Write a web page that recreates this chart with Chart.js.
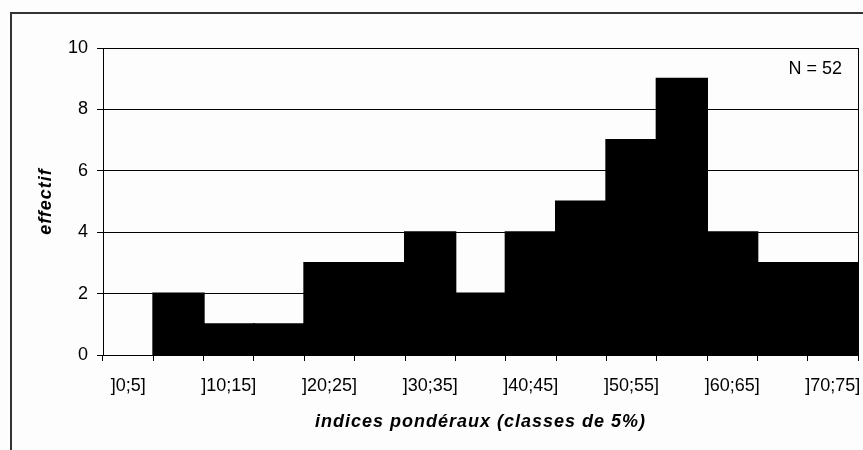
<!DOCTYPE html>
<html>
<head>
<meta charset="utf-8">
<script src="https://cdn.jsdelivr.net/npm/chart.js@4.4.1/dist/chart.umd.min.js"></script>
<style>
  html, body { margin: 0; padding: 0; background: #fdfdfd; }
  #wrap { width: 863px; height: 450px; }
</style>
</head>
<body>
<div id="wrap"><canvas id="histo" width="863" height="450"></canvas></div>
<script>
// classes of 5% and their counts
const classes = [']0;5]', ']5;10]', ']10;15]', ']15;20]', ']20;25]', ']25;30]', ']30;35]', ']35;40]',
                 ']40;45]', ']45;50]', ']50;55]', ']55;60]', ']60;65]', ']65;70]', ']70;75]'];
const effectifs = [0, 2, 1, 1, 3, 3, 4, 2, 4, 5, 7, 9, 4, 3, 3];
const yTicks = [0, 2, 4, 6, 8, 10];
const totalLabel = 'N = 52';
const xTitle = 'indices pondéraux (classes de 5%)';
const yTitle = 'effectif';

const FONT = 'Liberation Sans, Arial, sans-serif';

// axis titles are drawn slightly letter-spaced
const spacedTitles = {
    id: 'spacedTitles',
    beforeDraw(chart) {
        Object.values(chart.scales).forEach(scale => {
            if (scale._spaced) return;
            const orig = scale.drawTitle;
            scale.drawTitle = function () {
                const ctx = this.ctx;
                ctx.save();
                ctx.letterSpacing = '1px';
                orig.call(this);
                ctx.restore();
            };
            scale._spaced = true;
        });
    }
};

// outer frame + right edge of the plot + the N label
const framePlugin = {
    id: 'frame',
    afterDraw(chart) {
        const ctx = chart.ctx;
        const a = chart.chartArea;
        ctx.save();
        ctx.strokeStyle = '#333';
        ctx.lineWidth = 2;
        ctx.beginPath();
        ctx.moveTo(11, chart.height + 5);
        ctx.lineTo(11, 13);
        ctx.lineTo(chart.width + 5, 13);
        ctx.stroke();

        ctx.strokeStyle = '#000';
        ctx.lineWidth = 1;
        ctx.beginPath();
        ctx.moveTo(a.right + 0.5, a.top);
        ctx.lineTo(a.right + 0.5, a.bottom);
        ctx.stroke();

        ctx.fillStyle = '#000';
        ctx.font = '18px ' + FONT;
        ctx.textAlign = 'right';
        ctx.textBaseline = 'middle';
        ctx.fillText(totalLabel, a.right - 16, a.top + 21);
        ctx.restore();
    }
};

new Chart(document.getElementById('histo'), {
    type: 'bar',
    data: {
        labels: classes,
        datasets: [{
            data: effectifs,
            backgroundColor: '#000',
            borderColor: '#000',
            borderWidth: 0,
            // grow bars a little so neighbours join without seams (empty classes stay flat)
            inflateAmount: ctx => (ctx.raw > 0 ? 1 : 0),
            barPercentage: 1.0,
            categoryPercentage: 1.0
        }]
    },
    options: {
        responsive: false,
        animation: false,
        layout: { padding: { left: 0, top: 48, right: 5, bottom: 0 } },
        plugins: {
            legend: { display: false },
            tooltip: { enabled: false }
        },
        scales: {
            x: {
                offset: true,
                grid: {
                    offset: true,
                    drawOnChartArea: false,
                    color: '#000',
                    tickLength: 6,
                    lineWidth: 1
                },
                border: { color: '#000', width: 1 },
                ticks: {
                    autoSkip: false,
                    maxRotation: 0,
                    color: '#000',
                    padding: 14,
                    font: { family: FONT, size: 18 },
                    // only every second class is labelled
                    callback: function (value, index) {
                        return index % 2 === 0 ? classes[index] : '';
                    }
                },
                title: {
                    display: true,
                    text: xTitle,
                    color: '#000',
                    font: { family: FONT, size: 18, style: 'italic', weight: 'bold' },
                    padding: { top: 0, bottom: 17 }
                },
                afterFit: function (scale) {
                    scale.height = 95;
                    scale.paddingLeft = 0;
                    scale.paddingRight = 0;
                }
            },
            y: {
                min: 0,
                max: 10,
                afterBuildTicks: function (scale) {
                    scale.ticks = yTicks.map(v => ({ value: v }));
                },
                grid: {
                    color: '#000',
                    tickLength: 6,
                    lineWidth: 1
                },
                border: { color: '#000', width: 1 },
                ticks: {
                    color: '#000',
                    padding: 9,
                    font: { family: FONT, size: 18 }
                },
                title: {
                    display: true,
                    text: yTitle,
                    color: '#000',
                    font: { family: FONT, size: 18, style: 'italic', weight: 'bold' },
                    padding: { top: 35, bottom: 0 }
                },
                afterFit: function (scale) {
                    scale.width = 103;
                    scale.paddingTop = 0;
                    scale.paddingBottom = 0;
                }
            }
        }
    },
    plugins: [spacedTitles, framePlugin]
});
</script>
</body>
</html>
